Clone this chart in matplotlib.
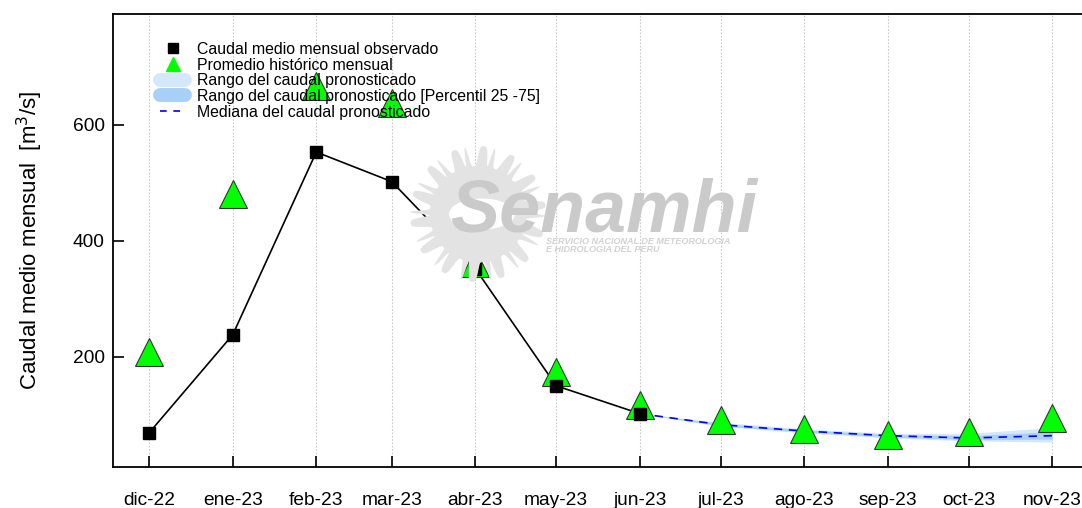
import numpy as np
import pandas as pd
import matplotlib
matplotlib.use('Agg')
import matplotlib.pyplot as plt
from matplotlib.patches import Polygon, Circle
from matplotlib.lines import Line2D

plt.rcParams['font.family'] = ['Liberation Sans', 'DejaVu Sans']

# datos
meses = ['dic-22', 'ene-23', 'feb-23', 'mar-23', 'abr-23', 'may-23',
         'jun-23', 'jul-23', 'ago-23', 'sep-23', 'oct-23', 'nov-23']
fechas = pd.date_range('2022-12-01', periods=12, freq='MS')

observado = [69, 238, 553, 502, 352, 150, 102]
promedio = [208, 481, 667, 638, 362, 174, 117, 91, 76, 66, 71, 95]

# pronostico (jun-23 a nov-23)
pron_mediana = [102, 83, 72, 64, 60, 64]
pron_min = [102, 80, 69, 60, 55, 53]
pron_max = [102, 87, 76, 68, 68, 78]
pron_p25 = [102, 81, 70, 62, 57, 58]
pron_p75 = [102, 85, 74, 66, 64, 71]

W, H = 1082, 508
fig = plt.figure(figsize=(W / 100, H / 100), dpi=100)
ax = fig.add_axes([113 / W, (H - 467) / H, 985 / W, 453 / H])

# marca de agua (logo)
def fx(px, py):
    return px / W, 1 - py / H

cx, cy = 478, 214
t = np.linspace(0, 2 * np.pi, 400)
r = 58 + 10 * np.sin(14 * t + 3 * np.sin(14 * t))
pts = [fx(cx + ri * np.cos(ti), cy + ri * np.sin(ti)) for ri, ti in zip(r, t)]
fig.patches.append(Polygon(pts, closed=True, transform=fig.transFigure,
                           facecolor='#e3e3e3', edgecolor='none', zorder=0))
fig.patches.append(Circle(fx(cx + 4, cy), 33 / W, transform=fig.transFigure,
                          facecolor='white', edgecolor='none', zorder=0))
fig.text(*fx(450, 212), 'Senamhi', fontsize=53, fontweight='bold', style='italic',
         color='#cacaca', va='center', ha='left', zorder=0)
fig.text(*fx(546, 241), 'SERVICIO NACIONAL DE METEOROLOGIA', fontsize=6.5,
         fontweight='bold', style='italic', color='#d2d2d2', va='center', zorder=0)
fig.text(*fx(546, 250), 'E HIDROLOGIA DEL PERU', fontsize=6.5,
         fontweight='bold', style='italic', color='#d2d2d2', va='center', zorder=0)
ax.patch.set_alpha(0)

for f in fechas:
    ax.axvline(f, color='#c8c8c8', lw=0.8, ls=(0, (1.5, 1.5)), zorder=1)

fp = fechas[6:]
ax.fill_between(fp, pron_min, pron_max, color='#d5e8fb', lw=0, zorder=2)
ax.fill_between(fp, pron_p25, pron_p75, color='#a9d0f7', lw=0, zorder=2)
ax.plot(fp, pron_mediana, color='#0000ff', lw=1.2, ls=(0, (5, 4)), zorder=3)

ax.plot(fechas[:7], observado, color='black', lw=1.2, zorder=3)
ax.plot(fechas[:7], observado, 's', color='black', ms=8.5, zorder=5)
ax.plot(fechas, promedio, '^', color='#00ff00', mec='#333333', mew=0.8,
        ms=19.5, zorder=4)

ax.set_xlim(pd.Timestamp('2022-11-17 14:00'), pd.Timestamp('2023-11-18'))
ax.set_ylim(10, 791)
ax.set_yticks([200, 400, 600])
ax.set_xticks(fechas)
ax.set_xticklabels(meses)
ax.tick_params(direction='in', length=8, width=1.2, labelsize=13.8, color='black')
ax.tick_params(axis='x', pad=18)
ax.tick_params(axis='y', pad=6)
for s in ['left', 'bottom', 'top']:
    ax.spines[s].set_linewidth(1.3)
ax.spines['right'].set_visible(False)
ax.set_ylabel('Caudal medio mensual  [m$^3$/s]', fontsize=16, labelpad=20)

handles = [
    Line2D([], [], marker='s', color='black', ls='none', ms=7.5),
    Line2D([], [], marker='^', color='#00ff00', ls='none', ms=10),
    Line2D([], [], color='#d5e8fb', lw=10, solid_capstyle='round'),
    Line2D([], [], color='#a9d0f7', lw=10, solid_capstyle='round'),
    Line2D([], [], color='#0000ff', ls=(0, (4, 4)), lw=1.2),
]
labels = ['Caudal medio mensual observado', 'Promedio histórico mensual',
          'Rango del caudal pronosticado',
          'Rango del caudal pronosticado [Percentil 25 -75]',
          'Mediana del caudal pronosticado']
fig.legend(handles, labels, loc='upper left', bbox_to_anchor=fx(160, 42),
           frameon=False, fontsize=11.4, labelspacing=0.04, handlelength=1.6,
           handletextpad=0.75, borderpad=0, borderaxespad=0)

fig.savefig('out.png', dpi=100)
